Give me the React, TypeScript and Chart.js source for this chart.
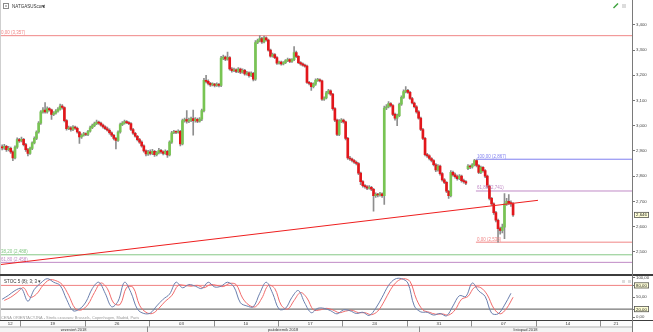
import React, { useEffect, useRef } from 'react';
import { Chart, registerables } from 'chart.js';

Chart.register(...registerables);

// ---- price data (H4 bars, NATGAS) ----
const OPEN = [
  2.915,2.912,2.918,2.905,2.910,2.896,2.872,2.915,2.945,2.940,
  2.946,2.925,2.905,2.890,2.910,2.932,2.950,2.975,3.010,3.055,
  3.062,3.055,3.068,3.063,3.045,3.050,3.058,3.066,3.078,3.072,
  3.020,2.988,2.992,2.985,2.994,2.990,2.975,2.955,2.962,2.968,
  2.965,2.978,2.992,3.000,3.008,3.014,3.010,3.002,2.995,2.988,
  2.982,2.972,2.962,2.950,2.942,2.975,3.004,3.010,3.016,3.012,
  3.008,2.985,2.970,2.958,2.945,2.935,2.920,2.900,2.888,2.896,
  2.890,2.898,2.885,2.893,2.902,2.896,2.890,2.898,2.884,2.935,
  2.972,2.976,2.974,2.978,2.928,3.020,3.024,3.018,3.022,3.028,
  3.020,3.025,3.018,3.026,3.060,3.180,3.176,3.168,3.162,3.165,
  3.160,3.164,3.160,3.268,3.272,3.264,3.270,3.225,3.218,3.222,
  3.215,3.225,3.212,3.220,3.205,3.210,3.198,3.208,3.185,3.330,
  3.338,3.345,3.332,3.348,3.340,3.300,3.276,3.282,3.270,3.248,
  3.252,3.245,3.250,3.258,3.262,3.255,3.262,3.290,3.275,3.250,
  3.245,3.240,3.236,3.172,3.168,3.155,3.165,3.180,3.182,3.178,
  3.105,3.110,3.130,3.138,3.125,3.068,3.022,2.965,3.018,3.022,
  3.015,2.950,2.872,2.868,2.862,2.855,2.850,2.812,2.778,2.762,
  2.758,2.752,2.756,2.748,2.722,2.728,2.725,2.730,2.722,3.070,
  3.075,3.088,3.080,3.045,3.030,3.040,3.085,3.112,3.135,3.140,
  3.132,3.108,3.090,3.075,3.055,3.030,2.985,2.950,2.885,2.880,
  2.870,2.862,2.845,2.825,2.840,2.810,2.785,2.775,2.740,2.722,
  2.815,2.805,2.798,2.790,2.800,2.782,2.778,2.830,2.840,2.836,
  2.845,2.862,2.842,2.815,2.835,2.822,2.800,2.760,2.712,2.690,
  2.655,2.625,2.592,2.585,2.598,2.690,2.700,2.695,2.690,
];
const HIGH = [
  2.924,2.926,2.922,2.918,2.915,2.900,2.920,2.952,2.950,2.955,
  2.950,2.930,2.910,2.915,2.936,2.956,2.980,3.016,3.060,3.072,
  3.092,3.075,3.072,3.066,3.056,3.064,3.072,3.086,3.084,3.075,
  3.024,2.998,2.996,3.000,2.998,2.994,2.978,2.968,2.974,2.972,
  2.982,2.998,3.006,3.014,3.022,3.018,3.014,3.006,2.999,2.994,
  2.988,2.976,2.966,2.954,2.980,3.010,3.016,3.022,3.020,3.016,
  3.012,2.990,2.974,2.962,2.950,2.940,2.924,2.904,2.902,2.904,
  2.906,2.902,2.898,2.910,2.906,2.900,2.904,2.902,2.940,2.978,
  2.982,2.980,2.984,2.982,3.026,3.030,3.060,3.030,3.034,3.062,
  3.032,3.030,3.032,3.066,3.188,3.200,3.182,3.172,3.170,3.168,
  3.170,3.168,3.275,3.280,3.276,3.292,3.274,3.230,3.228,3.226,
  3.230,3.228,3.226,3.224,3.216,3.214,3.214,3.212,3.338,3.344,
  3.357,3.350,3.355,3.352,3.344,3.304,3.288,3.286,3.274,3.256,
  3.256,3.254,3.262,3.268,3.266,3.266,3.314,3.296,3.278,3.254,
  3.249,3.244,3.240,3.176,3.172,3.170,3.186,3.188,3.186,3.181,
  3.114,3.136,3.144,3.142,3.128,3.072,3.026,3.024,3.028,3.026,
  3.018,2.954,2.878,2.872,2.866,2.860,2.854,2.816,2.782,2.766,
  2.762,2.762,2.760,2.752,2.734,2.732,2.736,2.734,3.078,3.084,
  3.096,3.092,3.084,3.050,3.046,3.090,3.118,3.142,3.155,3.144,
  3.136,3.112,3.094,3.080,3.060,3.034,2.990,2.954,2.890,2.884,
  2.874,2.866,2.850,2.846,2.844,2.814,2.790,2.778,2.744,2.822,
  2.820,2.812,2.804,2.806,2.804,2.788,2.782,2.846,2.844,2.850,
  2.867,2.865,2.846,2.840,2.838,2.826,2.804,2.764,2.716,2.694,
  2.660,2.630,2.598,2.610,2.731,2.712,2.727,2.702,2.695,
];
const LOW = [
  2.904,2.906,2.898,2.900,2.890,2.861,2.868,2.910,2.934,2.936,
  2.920,2.898,2.880,2.886,2.905,2.928,2.945,2.970,3.005,3.050,
  3.050,3.050,3.058,3.025,3.040,3.046,3.054,3.062,3.066,3.015,
  2.982,2.984,2.978,2.980,2.985,2.970,2.930,2.950,2.958,2.960,
  2.960,2.974,2.988,2.996,3.004,3.005,2.998,2.990,2.984,2.978,
  2.966,2.956,2.944,2.908,2.938,2.970,3.000,3.006,3.008,3.004,
  2.980,2.965,2.954,2.940,2.930,2.915,2.895,2.880,2.882,2.884,
  2.885,2.878,2.880,2.888,2.890,2.884,2.886,2.874,2.880,2.930,
  2.968,2.968,2.970,2.920,2.924,3.014,3.010,3.012,3.016,2.962,
  3.014,3.012,3.014,3.020,3.055,3.170,3.162,3.156,3.158,3.154,
  3.156,3.154,3.155,3.262,3.258,3.260,3.220,3.212,3.214,3.210,
  3.210,3.206,3.208,3.200,3.200,3.192,3.194,3.178,3.180,3.325,
  3.332,3.326,3.328,3.335,3.296,3.272,3.272,3.266,3.243,3.244,
  3.240,3.241,3.246,3.254,3.250,3.251,3.258,3.270,3.246,3.240,
  3.236,3.232,3.168,3.162,3.140,3.150,3.160,3.176,3.174,3.100,
  3.100,3.106,3.126,3.120,3.062,3.016,2.960,2.960,3.012,3.010,
  2.944,2.866,2.862,2.856,2.850,2.844,2.806,2.766,2.756,2.752,
  2.746,2.748,2.742,2.661,2.716,2.718,2.720,2.716,2.688,3.064,
  3.070,3.074,3.040,3.022,3.000,3.036,3.080,3.108,3.130,3.128,
  3.104,3.086,3.070,3.050,3.026,2.980,2.945,2.880,2.874,2.864,
  2.856,2.840,2.818,2.820,2.804,2.780,2.770,2.734,2.712,2.718,
  2.800,2.792,2.784,2.786,2.776,2.772,2.766,2.826,2.830,2.832,
  2.840,2.836,2.810,2.810,2.816,2.794,2.754,2.706,2.684,2.648,
  2.618,2.538,2.570,2.575,2.552,2.684,2.688,2.680,2.640,
];
const CLOSE = [
  2.912,2.918,2.905,2.910,2.896,2.872,2.915,2.945,2.940,2.946,
  2.925,2.905,2.890,2.910,2.932,2.950,2.975,3.010,3.055,3.062,
  3.055,3.068,3.063,3.045,3.050,3.058,3.066,3.078,3.072,3.020,
  2.988,2.992,2.985,2.994,2.990,2.975,2.955,2.962,2.968,2.965,
  2.978,2.992,3.000,3.008,3.014,3.010,3.002,2.995,2.988,2.982,
  2.972,2.962,2.950,2.942,2.975,3.004,3.010,3.016,3.012,3.008,
  2.985,2.970,2.958,2.945,2.935,2.920,2.900,2.888,2.896,2.890,
  2.898,2.885,2.893,2.902,2.896,2.890,2.898,2.884,2.935,2.972,
  2.976,2.974,2.978,2.928,3.020,3.024,3.018,3.022,3.028,3.020,
  3.025,3.018,3.026,3.060,3.180,3.176,3.168,3.162,3.165,3.160,
  3.164,3.160,3.268,3.272,3.264,3.270,3.225,3.218,3.222,3.215,
  3.225,3.212,3.220,3.205,3.210,3.198,3.208,3.185,3.330,3.338,
  3.345,3.332,3.348,3.340,3.300,3.276,3.282,3.270,3.248,3.252,
  3.245,3.250,3.258,3.262,3.255,3.262,3.290,3.275,3.250,3.245,
  3.240,3.236,3.172,3.168,3.155,3.165,3.180,3.182,3.178,3.105,
  3.110,3.130,3.138,3.125,3.068,3.022,2.965,3.018,3.022,3.015,
  2.950,2.872,2.868,2.862,2.855,2.850,2.812,2.778,2.762,2.758,
  2.752,2.756,2.748,2.722,2.728,2.725,2.730,2.722,3.070,3.075,
  3.088,3.080,3.045,3.030,3.040,3.085,3.112,3.135,3.140,3.132,
  3.108,3.090,3.075,3.055,3.030,2.985,2.950,2.885,2.880,2.870,
  2.862,2.845,2.825,2.840,2.810,2.785,2.775,2.740,2.722,2.815,
  2.805,2.798,2.790,2.800,2.782,2.778,2.772,2.840,2.836,2.845,
  2.862,2.842,2.815,2.835,2.822,2.800,2.760,2.712,2.690,2.655,
  2.625,2.592,2.585,2.598,2.690,2.700,2.695,2.690,2.646,
];

// ---- stochastic (sampled every STOCH_STEP bars) ----
const STOCH_STEP = 3;
const STOCH_K = [
  45,55,67,72,40,70,86,97,88,80,
  45,16,20,38,72,88,60,26,40,88,
  62,20,9,10,28,45,58,88,74,82,
  78,72,88,76,78,88,76,36,28,26,
  60,88,60,20,22,50,67,35,11,22,
  22,16,8,18,16,9,12,4,22,50,
  80,96,97,86,28,13,12,5,9,3,
  28,54,52,86,66,52,10,8,30,60,
];
const STOCH_D = [
  42,50,62,74,50,58,80,94,92,82,
  55,22,18,32,62,86,72,35,32,75,
  75,30,12,9,22,40,54,80,80,78,
  80,74,82,80,77,85,82,48,30,26,
  48,80,72,30,20,42,62,48,18,18,
  22,18,11,15,17,11,11,6,15,40,
  70,90,97,90,45,18,12,7,8,5,
  18,45,52,75,74,56,22,8,22,50,
];
const STOCH_LEVELS = [80, 20];

// ---- axes ----
const X_MIN = -1;
const X_MAX = 293.4;
const PRICE_MIN = 2.4078;
const PRICE_MAX = 3.4843;
const PRICE_TICKS = [2.5, 2.6, 2.7, 2.8, 2.9, 3.0, 3.1, 3.2, 3.3, 3.4];
const STOCH_MIN = -7.5;
const STOCH_MAX = 106.25;
const STOCH_TICKS = [0, 20, 50, 80, 100];
const DAY_LABELS = ['12', '19', '26', '03', '10', '17', '24', '31', '07', '14', '21'];
const WEEK_STARTS = [-21.5, 8.5, 38.5, 68.5, 98.5, 128.5, 158.5, 188.5, 218.5, 248.5, 278.5, 308.5];
const MONTH_LABELS = ['wrzesień 2018', 'październik 2018', 'listopad 2018'];
const MONTH_STARTS = [-40, 67.5, 194.2, 330];

// ---- drawing objects ----
const FIB_LABELS = ['0,00 (3,357)', '100,00 (2,867)', '61,80 (2,741)', '0,00 (2,538)', '38,20 (2,488)', '61,80 (2,458)'];
const FIB_VALUES = [3.357, 2.867, 2.741, 2.538, 2.488, 2.458];
const FIB_FROM = [-1, 220.7, 220.7, 220.7, -1, -1];
const FIB_COLORS = ['#f08686', '#7f7ff0', '#c08ac6', '#f08686', '#86c886', '#c08ac6'];
const TREND_X = [-1, 249.6];
const TREND_Y = [2.449, 2.704];

const GREEN = '#78c453';
const RED = '#e2161b';
const WICK = '#8e8e8e';
const FONT = '"Liberation Sans", Arial, sans-serif';

const fmt = (v: number, d: number) => v.toFixed(d).replace('.', ',');

const decorPlugin = {
  id: 'decor',
  beforeDraw(chart: any) {
    const { ctx, width, height } = chart;
    ctx.save();
    ctx.fillStyle = '#ffffff';
    ctx.fillRect(0, 0, width, height);
    ctx.restore();
  },
  afterDraw(chart: any) {
    const { ctx, chartArea: ca, width, height } = chart;
    const xs = chart.scales.x;
    const ys = chart.scales.y;
    const ss = chart.scales.yS;
    ctx.save();

    // left border
    ctx.fillStyle = '#cfcfcf';
    ctx.fillRect(0, 0, 1, ca.bottom);

    // fibonacci labels
    ctx.font = `4.5px ${FONT}`;
    ctx.textAlign = 'left';
    ctx.textBaseline = 'alphabetic';
    FIB_VALUES.forEach((v, i) => {
      const px = Math.max(xs.getPixelForValue(FIB_FROM[i]), ca.left) + 1;
      const py = ys.getPixelForValue(v) - 1.5;
      ctx.fillStyle = FIB_COLORS[i];
      ctx.fillText(FIB_LABELS[i], px, py);
    });

    // header
    ctx.strokeStyle = '#8a8a8a';
    ctx.lineWidth = 1;
    ctx.strokeRect(3.5, 3.5, 5, 5);
    ctx.fillStyle = '#bbbbbb';
    ctx.fillRect(5, 5, 2, 2);
    ctx.fillStyle = '#333333';
    ctx.font = `4.5px ${FONT}`;
    ctx.textBaseline = 'middle';
    ctx.fillText('NATGASUScont', 12, 6.5);
    ctx.fillText('▾', 42, 6.5);
    // top-right icons
    ctx.strokeStyle = '#3da23d';
    ctx.lineWidth = 1.5;
    ctx.beginPath();
    ctx.moveTo(613.5, 8);
    ctx.lineTo(618, 3.5);
    ctx.stroke();
    ctx.fillStyle = '#dcdcdc';
    ctx.fillRect(622, 4, 4, 4);
    // stoch panel icons
    ctx.fillRect(622, 280, 3, 3);
    ctx.fillRect(628, 280, 3, 3);

    // panel separator & borders
    ctx.fillStyle = '#3c3c3c';
    ctx.fillRect(0, ss.top - 1, width, 2);
    ctx.fillRect(0, ca.bottom, width, 1);
    ctx.fillStyle = '#7a7a7a';
    ctx.fillRect(ca.right, 0, 1, height);

    // stoch labels
    ctx.fillStyle = '#333333';
    ctx.font = `4.5px ${FONT}`;
    ctx.textBaseline = 'middle';
    ctx.fillText('STOC 5 (8); 3; 3 ▾', 4, ss.top + 7);
    ctx.fillStyle = '#9a9a9a';
    ctx.font = `3.9px ${FONT}`;
    ctx.fillText('CENA ORIENTACYJNA - Strefa czasowa: Brussels, Copenhagen, Madrid, Paris', 1, ca.bottom - 2.5);

    // time axis rows
    const rowH = (height - ca.bottom - 1) / 2;
    const r1 = ca.bottom + 1;
    const r2 = r1 + rowH;
    ctx.fillStyle = '#f4f4f4';
    ctx.fillRect(0, r1, ca.right, height - r1);
    ctx.fillStyle = '#fbfbfb';
    ctx.fillRect(0, r1, ca.right, rowH);
    ctx.fillStyle = '#b0b0b0';
    ctx.fillRect(0, r2, ca.right, 1);
    ctx.font = `4.3px ${FONT}`;
    ctx.textAlign = 'center';
    ctx.textBaseline = 'middle';
    for (let k = 0; k < DAY_LABELS.length; k++) {
      const a = Math.max(WEEK_STARTS[k], xs.min);
      const b = Math.min(WEEK_STARTS[k + 1], xs.max);
      const pa = xs.getPixelForValue(a);
      const pb = xs.getPixelForValue(b);
      ctx.fillStyle = '#333333';
      ctx.fillText(DAY_LABELS[k], (pa + pb) / 2, r1 + rowH / 2 + 0.5);
      if (WEEK_STARTS[k + 1] < xs.max) {
        ctx.fillStyle = '#8c8c8c';
        ctx.fillRect(Math.round(pb), r1, 1, rowH);
      }
    }
    ctx.font = `4px ${FONT}`;
    for (let k = 0; k < MONTH_LABELS.length; k++) {
      const a = Math.max(MONTH_STARTS[k], xs.min);
      const b = Math.min(MONTH_STARTS[k + 1], xs.max);
      const pa = xs.getPixelForValue(a);
      const pb = xs.getPixelForValue(b);
      ctx.fillStyle = '#333333';
      ctx.fillText(MONTH_LABELS[k], (pa + pb) / 2, r2 + rowH / 2 + 0.5);
      if (MONTH_STARTS[k + 1] < xs.max) {
        ctx.fillStyle = '#8c8c8c';
        ctx.fillRect(Math.round(pb), r2, 1, rowH);
      }
    }

    // boxed value labels on the right axis
    const boxed = (text: string, py: number) => {
      ctx.font = `4.3px ${FONT}`;
      const w = 15;
      const x0 = ca.right + 2;
      ctx.fillStyle = '#ffffd6';
      ctx.fillRect(x0, py - 3, w, 6);
      ctx.strokeStyle = '#555555';
      ctx.lineWidth = 0.8;
      ctx.strokeRect(x0 + 0.4, py - 2.6, w - 0.8, 5.2);
      ctx.fillStyle = '#222222';
      ctx.textAlign = 'center';
      ctx.textBaseline = 'middle';
      ctx.fillText(text, x0 + w / 2, py + 0.3);
    };
    boxed(fmt(CLOSE[CLOSE.length - 1], 3), ys.getPixelForValue(CLOSE[CLOSE.length - 1]));
    STOCH_LEVELS.forEach((lv) => boxed(fmt(lv, 2), ss.getPixelForValue(lv)));

    ctx.restore();
  },
};

export default function App() {
  const ref = useRef<HTMLCanvasElement>(null);

  useEffect(() => {
    const idx = CLOSE.map((_, i) => i);
    const wickData = idx.map((i) => ({ x: i, y: [LOW[i], HIGH[i]] }));
    const bodyData = idx.map((i) => ({ x: i, y: [OPEN[i], CLOSE[i]] }));
    const bodyColors = idx.map((i) => (CLOSE[i] >= OPEN[i] ? GREEN : RED));

    const lineBase = { type: 'line', pointRadius: 0, borderWidth: 1, fill: false };

    const datasets: any[] = [
      ...FIB_VALUES.map((v, i) => ({
        ...lineBase,
        data: [{ x: FIB_FROM[i], y: v }, { x: X_MAX, y: v }],
        borderColor: FIB_COLORS[i],
        yAxisID: 'y',
        order: 9,
      })),
      {
        type: 'bar',
        data: wickData,
        backgroundColor: WICK,
        barThickness: 1,
        grouped: false,
        yAxisID: 'y',
        order: 6,
      },
      {
        type: 'bar',
        data: bodyData,
        backgroundColor: bodyColors,
        barThickness: 2,
        minBarLength: 1,
        grouped: false,
        yAxisID: 'y',
        order: 5,
      },
      {
        ...lineBase,
        data: TREND_X.map((x, k) => ({ x, y: TREND_Y[k] })),
        borderColor: '#ee1f1f',
        yAxisID: 'y',
        order: 1,
      },
      {
        ...lineBase,
        data: [{ x: X_MIN, y: STOCH_LEVELS[0] }, { x: X_MAX, y: STOCH_LEVELS[0] }],
        borderColor: '#f08080',
        yAxisID: 'yS',
        order: 4,
      },
      {
        ...lineBase,
        data: [{ x: X_MIN, y: STOCH_LEVELS[1] }, { x: X_MAX, y: STOCH_LEVELS[1] }],
        borderColor: '#555555',
        yAxisID: 'yS',
        order: 4,
      },
      {
        ...lineBase,
        data: STOCH_K.map((v, j) => ({ x: j * STOCH_STEP, y: v })),
        borderColor: '#6b7fae',
        tension: 0.35,
        yAxisID: 'yS',
        order: 2,
      },
      {
        ...lineBase,
        data: STOCH_D.map((v, j) => ({ x: j * STOCH_STEP + 1, y: v })),
        borderColor: '#f26b6b',
        tension: 0.35,
        yAxisID: 'yS',
        order: 3,
      },
    ];

    const tickFont = { size: 4.3, family: FONT };
    const axisCommon = {
      type: 'linear',
      position: 'right',
      stack: 'panels',
      offset: false,
      grid: { drawOnChartArea: false, drawTicks: true, tickLength: 3, color: '#777777' },
      border: { display: true, color: '#777777' },
      afterFit: (s: any) => {
        s.width = 21;
      },
    };

    const chart = new Chart(ref.current as HTMLCanvasElement, {
      type: 'bar',
      data: { datasets },
      options: {
        animation: false,
        responsive: false,
        devicePixelRatio: 1,
        layout: { padding: { left: 0, right: 0, top: 0, bottom: 12 } },
        plugins: { legend: { display: false }, tooltip: { enabled: false } },
        events: [],
        scales: {
          x: {
            type: 'linear',
            min: X_MIN,
            max: X_MAX,
            offset: false,
            display: false,
          },
          y: {
            ...axisCommon,
            min: PRICE_MIN,
            max: PRICE_MAX,
            stackWeight: 274.5,
            afterBuildTicks: (s: any) => {
              s.ticks = PRICE_TICKS.map((v) => ({ value: v }));
            },
            ticks: {
              autoSkip: false,
              padding: 1,
              color: '#444444',
              font: tickFont,
              callback: (v: any) => fmt(Number(v), 3),
            },
          },
          yS: {
            ...axisCommon,
            min: STOCH_MIN,
            max: STOCH_MAX,
            stackWeight: 45.5,
            afterBuildTicks: (s: any) => {
              s.ticks = STOCH_TICKS.map((v) => ({ value: v }));
            },
            ticks: {
              autoSkip: false,
              padding: 1,
              color: '#444444',
              font: tickFont,
              callback: (v: any) => fmt(Number(v), 2),
            },
          },
        },
      } as any,
      plugins: [decorPlugin],
    } as any);

    return () => chart.destroy();
  }, []);

  return (
    <div style={{ position: 'fixed', left: 0, top: 0, width: 653, height: 332, background: '#fff' }}>
      <canvas ref={ref} width={653} height={332} style={{ display: 'block', width: 653, height: 332 }} />
    </div>
  );
}
